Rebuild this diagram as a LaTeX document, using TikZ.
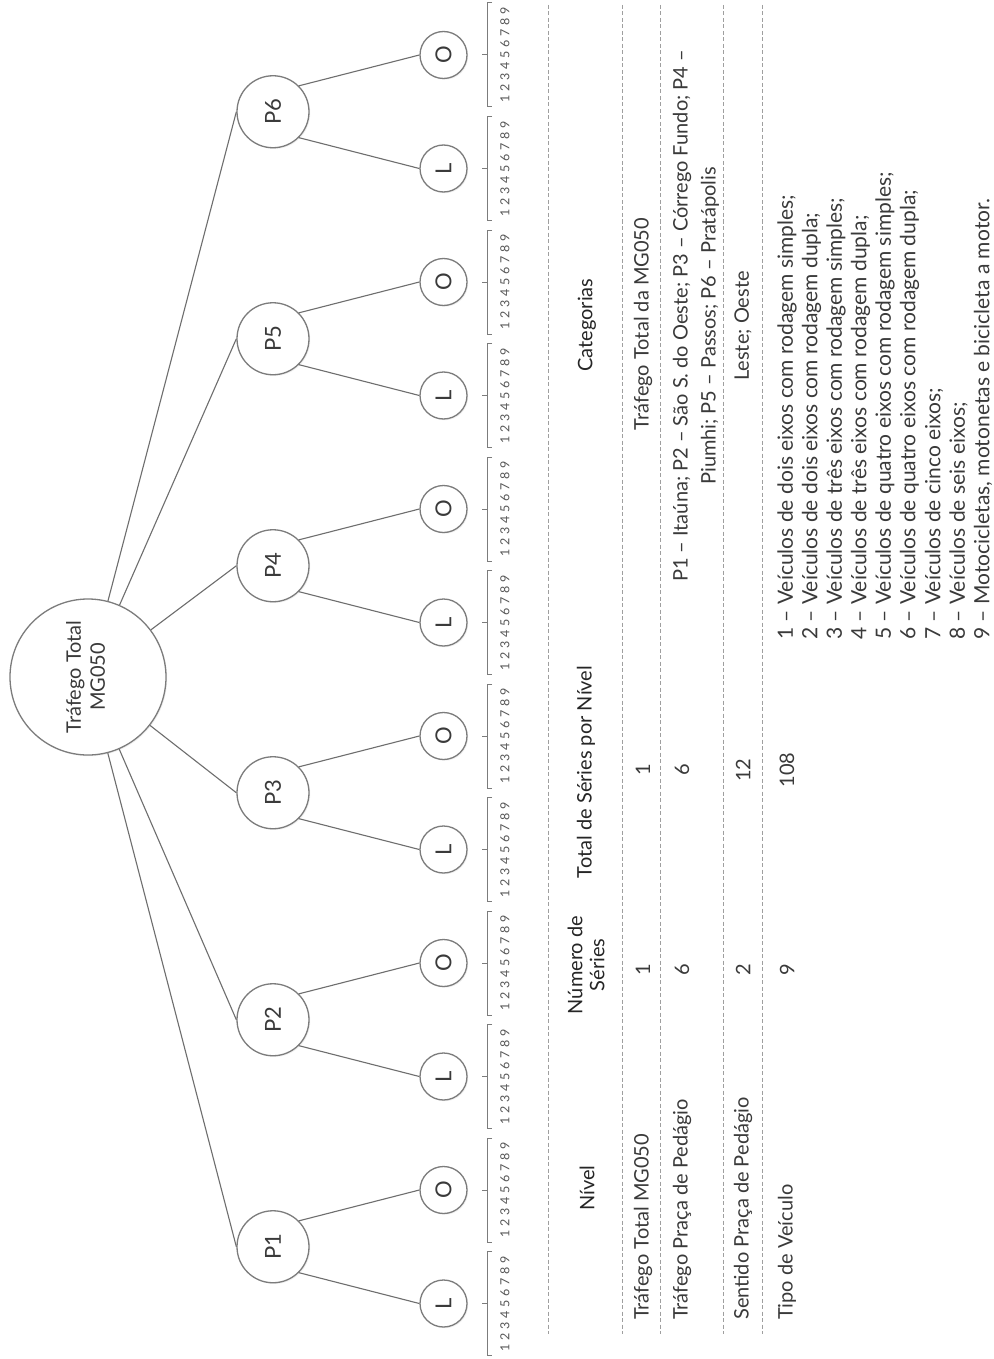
\documentclass[tikz,border=0pt]{standalone}
\usepackage{fontspec}
\usepackage{graphicx}
\setmainfont{Lato}
\usetikzlibrary{shadows}
\definecolor{txt}{HTML}{3A3A3A}
\definecolor{hdrc}{HTML}{262626}
\definecolor{ln}{HTML}{6E6E6E}
\definecolor{circ}{HTML}{7C7C7C}
\newcommand\dg[1]{\makebox[11pt]{#1}}
\newcommand\rt[1]{\rotatebox{90}{#1}}
\begin{document}
\begin{tikzpicture}[x=1pt,y=-1pt,
 conn/.style={draw=ln, line width=1.1pt},
 rootnode/.style={circle, draw=circ, line width=1.3pt, fill=white, minimum size=156pt, inner sep=0pt, text=txt,
   font=\fontsize{20}{24}\selectfont, drop shadow={shadow xshift=1.2pt, shadow yshift=-1.2pt, opacity=0.12}},
 pnode/.style={rootnode, minimum size=72pt, font=\fontsize{22}{24}\selectfont},
 leaf/.style={rootnode, minimum size=47pt, font=\fontsize{22}{24}\selectfont},
 brk/.style={draw=circ, line width=1pt},
 digs/.style={rotate=90, inner sep=0pt, text=txt!85, font=\fontsize{12.5}{14}\selectfont},
 hdr/.style={rotate=90, inner sep=0pt, text=hdrc, font=\fontsize{20}{22}\selectfont, align=center},
 cell/.style={rotate=90, inner sep=0pt, text=txt, font=\fontsize{20}{22}\selectfont},
 item/.style={cell, font=\fontsize{21}{22}\selectfont},
 sep/.style={draw=gray!75, line width=0.8pt, dash pattern=on 4pt off 2.5pt}
]
\useasboundingbox (0,0) rectangle (993,1359);
\fill[white] (0,0) rectangle (993,1359);

% root
\node[rootnode] (root) at (88,677) {\rt{\begin{tabular}{@{}c@{}}Tráfego Total\\MG050\end{tabular}}};

% P nodes and leaves
\foreach \n in {1,...,6}{
  \pgfmathsetmacro\yo{55+227*(6-\n)}
  \pgfmathsetmacro\yl{\yo+113.5}
  \pgfmathsetmacro\yp{\yo+56.75}
  \node[pnode] (P\n) at (273,\yp) {\rt{P\n}};
  \node[leaf] (O\n) at (443.5,\yo) {\rt{O}};
  \node[leaf] (L\n) at (443.5,\yl) {\rt{L}};
  \draw[conn] (root) -- (P\n.west);
  \draw[conn] (P\n.north east) -- (O\n.west);
  \draw[conn] (P\n.south east) -- (L\n.west);
}

% brackets and digit scales
\foreach \k in {0,...,11}{
  \pgfmathsetmacro\y{55+113.5*\k}
  \pgfmathsetmacro\ya{\y-52}
  \pgfmathsetmacro\yb{\y+52}
  \coordinate (b\k) at (487,\y);
  \draw[brk] (492,\ya) -- (487,\ya) -- (487,\yb) -- (492,\yb);
  \draw[brk] (b\k) -- ++(-5,0);
  \node[digs] (d\k) at (505,\y) {\dg1\dg2\dg3\dg4\dg5\dg6\dg7\dg8\dg9};
}

% table separators
\foreach \x in {548,622,660,723,762}{
  \draw[sep] (\x,5) -- (\x,1334);
}

% headers
\node[hdr] (hN) at (587,1188) {Nível};
\node[hdr] (hNS) at (586,965) {Número de\\Séries};
\node[hdr] (hT) at (586,772) {Total de Séries por Nível};
\node[hdr] (hC) at (587,325) {Categorias};

% row 1
\node[cell, anchor=west] (r1a) at (643,1320) {Tráfego Total MG050};
\node[cell] (r1b) at (643,970) {1};
\node[cell] (r1c) at (643,770) {1};
\node[cell] (r1d) at (643,324) {Tráfego Total da MG050};

% row 2
\node[cell, anchor=west] (r2a) at (682,1320) {Tráfego Praça de Pedágio};
\node[cell] (r2b) at (682,970) {6};
\node[cell] (r2c) at (682,770) {6};
\node[cell] (r2d) at (682,316) {P1 – Itaúna; P2 – São S. do Oeste; P3 – Córrego Fundo; P4 –};
\node[cell] (r2e) at (710,326) {Piumhi; P5 – Passos; P6 – Pratápolis};

% row 3
\node[cell, anchor=west] (r3a) at (743,1320) {Sentido Praça de Pedágio};
\node[cell] (r3b) at (743,970) {2};
\node[cell] (r3c) at (743,770) {12};
\node[cell] (r3d) at (743,326) {Leste; Oeste};

% row 4
\node[cell, anchor=west] (r4a) at (787,1320) {Tipo de Veículo};
\node[cell] (r4b) at (787,970) {9};
\node[cell] (r4c) at (787,770) {108};
\foreach \i/\t in {0/{1 – Veículos de dois eixos com rodagem simples;},
                   1/{2 – Veículos de dois eixos com rodagem dupla;},
                   2/{3 – Veículos de três eixos com rodagem simples;},
                   3/{4 – Veículos de três eixos com rodagem dupla;},
                   4/{5 – Veículos de quatro eixos com rodagem simples;},
                   5/{6 – Veículos de quatro eixos com rodagem dupla;},
                   6/{7 – Veículos de cinco eixos;},
                   7/{8 – Veículos de seis eixos;},
                   8/{9 – Motocicletas, motonetas e bicicleta a motor.}}{
  \pgfmathsetmacro\xx{787+24.5*\i}
  \node[item, anchor=west] (v\i) at (\xx,640) {\t};
}
\end{tikzpicture}
\end{document}
